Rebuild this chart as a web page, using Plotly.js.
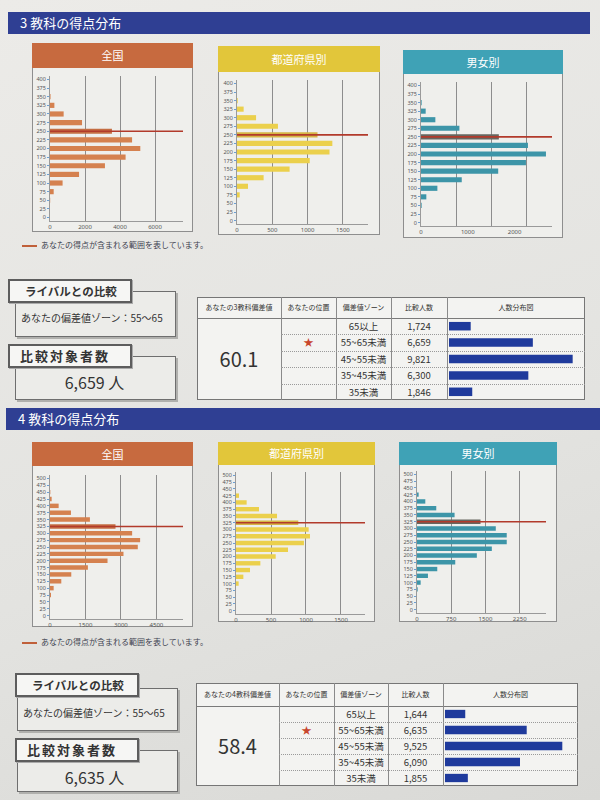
<!DOCTYPE html>
<html><head><meta charset="utf-8">
<script src="https://cdn.plot.ly/plotly-3.0.1.min.js"></script>
<style>
body{margin:0;width:600px;height:800px;background:linear-gradient(160deg,#ecebe8 0%,#e3e3e0 60%,#d9d9d6 100%);font-family:"Noto Sans CJK JP","Noto Sans",sans-serif;position:relative;overflow:hidden;color:#333;}
.a{position:absolute;box-sizing:border-box;}
.band{background:#2f3f93;color:#fff;font-size:13px;line-height:22px;padding-left:12px;}
.panel{background:#efefec;border:1px solid #8e8e8e;}
.phead{color:#fff;text-align:center;font-size:11px;}
.tab{background:#f6f6f4;border:2px solid #5d5d5d;box-shadow:1px 1px 0 #aaa;font-weight:bold;color:#333;white-space:nowrap;}
.box{background:#ecece9;border:1.5px solid #6e6e6e;box-shadow:2px 2px 0 #b0b0ad;}
.tbl{background:#f3f3f1;border:1px solid #767676;}
.cell{text-align:center;white-space:nowrap;}
</style></head><body>
<script>
// ---------------- data ----------------
const bins3 = [0,25,50,75,100,125,150,175,200,225,250,275,300,325,350,375,400];
const zenkoku3 = [0,0,10,210,720,1660,3140,4320,5160,4690,3540,1830,780,250,30,0,0];
const pref3    = [0,0,0,38,156,377,745,1030,1310,1350,1140,580,270,94,10,0,0];
const gender3  = [0,0,14,114,350,871,1650,2243,2671,2286,1664,821,307,100,14,0,0];
const myBin3 = 250;

const bins4 = [0,25,50,75,100,125,150,175,200,225,250,275,300,325,350,375,400,425,450,475,500];
const zenkoku4 = [0,0,0,42,155,478,900,1603,2433,3108,3713,3811,3474,2770,1688,886,366,70,14,0,0];
const pref4    = [0,0,0,0,38,105,200,348,567,743,971,1057,1038,890,586,329,152,43,0,0,0];
const gender4  = [0,0,0,15,80,240,444,838,1311,1639,1966,1966,1726,1391,823,422,182,36,0,0,0];
const myBin4 = 325;

const panelTitles = ["全国","都道府県別","男女別"];
const zones = ["65以上","55~65未満","45~55未満","35~45未満","35未満"];
const counts3 = [1724,6659,9821,6300,1846];
const counts4 = [1644,6635,9525,6090,1855];
const score3 = "60.1", score4 = "58.4";
const myZoneIndex = 1;
const zoneText = "あなたの偏差値ゾーン：55〜65";
const total3 = "6,659 人", total4 = "6,635 人";
const legendText = "あなたの得点が含まれる範囲を表しています。";

// ---------------- helpers ----------------
function el(cls, css, html){
  const d=document.createElement('div'); d.className='a '+(cls||'');
  Object.assign(d.style, css); if(html!==undefined) d.innerHTML=html;
  document.body.appendChild(d); return d;
}
const px=v=>v+'px';
const headColors=["#c76a3f","#e2c63a","#3fa2b6"];
const barColors=["#d5814f","#ebd04c","#3d95a8"];
const hiColors=["#c46d42","#d6b544","#66665f"];

function hist(p, bins, vals, my, xmax, ticks, minorDtick, ymax, idx){
  el('panel',{left:px(p.x),top:px(p.y),width:px(p.w),height:px(p.h)});
  el('phead',{left:px(p.x),top:px(p.y),width:px(p.w),height:px(p.hh),background:headColors[idx],lineHeight:px(p.hh)},panelTitles[idx]);
  const dTop=p.y+p.hh, dBot=p.y+p.h+10;
  const d=el('',{left:px(p.x),top:px(dTop),width:px(p.w),height:px(dBot-dTop)});
  const colors=bins.map(b=>b===my?hiColors[idx]:barColors[idx]);
  const xa={range:[0,xmax],tickvals:ticks,ticktext:ticks.map(String),showgrid:minorDtick?false:true,gridcolor:'#8d8d8d',gridwidth:1,
    zeroline:false,showline:true,linecolor:'#9a9a9a',linewidth:1,tickfont:{size:6,color:'#555',family:'Noto Sans'},ticks:'',ticklabelstandoff:0,fixedrange:true};
  if(minorDtick){xa.minor={tick0:0,dtick:minorDtick,showgrid:true,gridcolor:'#8d8d8d',gridwidth:1,ticks:''};}
  const pad=ymax===400?10:12.5;
  Plotly.newPlot(d,[{type:'bar',orientation:'h',y:bins,x:vals,marker:{color:colors},hoverinfo:'none'}],{
    width:p.w,height:dBot-dTop,
    margin:{l:p.pl-p.x,r:p.x+p.w-p.pr,t:p.pt-dTop,b:dBot-p.pb,pad:0},
    paper_bgcolor:'rgba(0,0,0,0)',plot_bgcolor:'rgba(0,0,0,0)',
    bargap:ymax===400?0.4:0.35,showlegend:false,
    xaxis:xa,
    yaxis:{range:[-pad,ymax+pad],tickmode:'array',tickvals:bins,ticktext:bins.map(String),showgrid:false,zeroline:false,
      showline:true,linecolor:'#9a9a9a',linewidth:1,ticks:'outside',ticklen:2,tickcolor:'#6d9fd3',
      tickfont:{size:5.5,color:'#555',family:'Noto Sans'},fixedrange:true},
    shapes:[{type:'line',xref:'x',yref:'y',x0:0,x1:xmax,y0:my,y1:my,line:{color:'#b23a2b',width:1.6}}]
  },{staticPlot:true,displayModeBar:false});
}

function legend(y){
  el('',{left:'22px',top:px(y-1),width:'15px',height:'2px',background:'#c0603a'});
  el('',{left:'41px',top:px(y-7),fontSize:'8px',color:'#3e4250',whiteSpace:'nowrap',lineHeight:'12px'},legendText);
}

function leftBoxes(o, total){
  el('box',{left:px(o.bx),top:px(o.b1t),width:'161px',height:px(o.b1b-o.b1t)});
  el('tab',{left:px(o.tx),top:px(o.t1t),width:'124px',height:px(o.t1b-o.t1t),fontSize:'11.5px',lineHeight:px(o.t1b-o.t1t-4),paddingLeft:'15px'},'ライバルとの比較');
  el('',{left:px(o.bx+6),top:px(o.z-8),fontSize:'10px',lineHeight:'16px',color:'#333',whiteSpace:'nowrap'},zoneText);
  el('box',{left:px(o.bx),top:px(o.b2t),width:'161px',height:px(o.b2b-o.b2t)});
  el('tab',{left:px(o.tx),top:px(o.t2t),width:'124px',height:px(o.t2b-o.t2t),fontSize:'13px',lineHeight:px(o.t2b-o.t2t-4),paddingLeft:'10px',letterSpacing:'2px'},'比較対象者数');
  el('',{left:'52px',top:px(o.n-11),width:'85px',textAlign:'center',fontSize:'16px',lineHeight:'22px',color:'#333',whiteSpace:'nowrap'},total);
}

function table(t, headFirst, score, counts, rangeMax){
  const c=t.cols, W=c[5]-c[0], H=t.bottom-t.top;
  el('tbl',{left:px(c[0]),top:px(t.top),width:px(W),height:px(H)});
  el('',{left:px(c[0]),top:px(t.head),width:px(W),height:'1px',background:'#7a7a7a'});
  for(let i=1;i<5;i++) el('',{left:px(c[i]),top:px(t.top),width:'1px',height:px(H),background:'#8a8a8a'});
  const heads=[headFirst,"あなたの位置","偏差値ゾーン","比較人数","人数分布図"];
  heads.forEach((h,i)=>el('cell',{left:px(c[i]),top:px(t.top),width:px(c[i+1]-c[i]),height:px(t.head-t.top),lineHeight:px(t.head-t.top),fontSize:'7px',color:'#333'},h));
  const rh=(t.bottom-t.head)/5;
  for(let r=1;r<5;r++) el('',{left:px(c[1]),top:px(t.head+r*rh),width:px(c[5]-c[1]),height:'0px',borderTop:'1px dotted #9a9a9a'});
  zones.forEach((z,r)=>{
    el('cell',{left:px(c[2]),top:px(t.head+r*rh),width:px(c[3]-c[2]),height:px(rh),lineHeight:px(rh),fontSize:'9.5px',color:'#333'},z);
    el('cell',{left:px(c[3]),top:px(t.head+r*rh),width:px(c[4]-c[3]),height:px(rh),lineHeight:px(rh),fontSize:'9.5px',color:'#333'},counts[r].toLocaleString('en-US'));
  });
  el('cell',{left:px(c[1]),top:px(t.head+myZoneIndex*rh),width:px(c[2]-c[1]),height:px(rh),lineHeight:px(rh),fontSize:'10px',color:'#c8462d'},'★');
  el('cell',{left:px(c[0]),top:px(t.head),width:px(c[1]-c[0]),height:px(t.bottom-t.head),lineHeight:px(t.bottom-t.head),fontSize:'20px',color:'#333'},score);
  const d=el('',{left:px(c[4]+1),top:px(t.head),width:px(c[5]-c[4]-1),height:px(t.bottom-t.head)});
  Plotly.newPlot(d,[{type:'bar',orientation:'h',y:zones,x:counts,marker:{color:'#1f3a9c'},hoverinfo:'none'}],{
    width:c[5]-c[4]-1,height:t.bottom-t.head,margin:{l:1,r:0,t:0,b:0,pad:0},
    paper_bgcolor:'rgba(0,0,0,0)',plot_bgcolor:'rgba(0,0,0,0)',bargap:0.48,showlegend:false,
    xaxis:{range:[0,rangeMax],visible:false,fixedrange:true},
    yaxis:{autorange:'reversed',visible:false,fixedrange:true}
  },{staticPlot:true,displayModeBar:false});
}

// ---------------- section: 3教科 ----------------
el('band',{left:'8px',top:'12px',width:'582px',height:'22px'},'3 教科の得点分布');
const p3=[
  {x:32,y:43,w:161,h:189,hh:25,pl:50,pr:183,pt:75.5,pb:221.5},
  {x:218,y:46,w:162,h:189,hh:26,pl:237,pr:368,pt:79.5,pb:224.5},
  {x:403,y:50,w:160,h:188,hh:24,pl:421,pr:552,pt:81.5,pb:226.5}
];
hist(p3[0],bins3,zenkoku3,myBin3,7600,[0,2000,4000,6000],null,400,0);
hist(p3[1],bins3,pref3,myBin3,1855,[0,500,1000,1500],null,400,1);
hist(p3[2],bins3,gender3,myBin3,2800,[0,1000,2000],750,400,2);
legend(246);
leftBoxes({tx:8,bx:15,t1t:279,t1b:303,b1t:291,b1b:337,z:318,t2t:344,t2b:368,b2t:356,b2b:400,n:382},total3);
table({cols:[197,281,336,391,447,585],top:297,head:318,bottom:400},"あなたの3教科偏差値",score3,counts3,10800);

// ---------------- section: 4教科 ----------------
el('band',{left:'6px',top:'408px',width:'594px',height:'22px'},'4 教科の得点分布');
const p4=[
  {x:32,y:442,w:161,h:185,hh:24,pl:50,pr:183,pt:474.5,pb:619},
  {x:218,y:442,w:157,h:180,hh:23,pl:236,pr:365,pt:471.5,pb:614},
  {x:399,y:442,w:158,h:180,hh:23,pl:417,pr:546,pt:470.5,pb:613}
];
hist(p4[0],bins4,zenkoku4,myBin4,5625,[0,1500,3000,4500],null,500,0);
hist(p4[1],bins4,pref4,myBin4,1843,[0,500,1000,1500],null,500,1);
hist(p4[2],bins4,gender4,myBin4,2826,[0,750,1500,2250],null,500,2);
legend(643);
leftBoxes({tx:15,bx:17,t1t:673,t1b:697,b1t:688,b1b:731,z:713,t2t:738,t2b:762,b2t:750,b2b:792,n:777},total4);
table({cols:[196,279,334,388,443,578],top:683,head:706,bottom:786},"あなたの4教科偏差値",score4,counts4,10800);
</script>
</body></html>
